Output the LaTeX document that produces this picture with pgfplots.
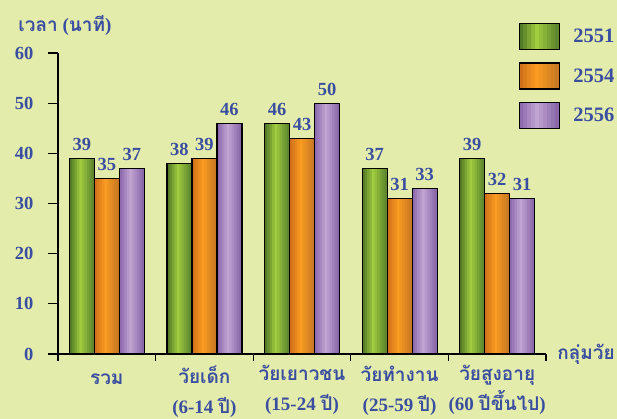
\documentclass[border=0pt]{standalone}
\usepackage{fontspec}
\setmainfont{Liberation Serif}
\newfontfamily\thai[Script=Thai]{Loma}
\usepackage{pgfplots}
\usepackage{pgfplotstable}
\pgfplotsset{compat=1.18}

\definecolor{bgc}{RGB}{228,236,172}
\definecolor{txt}{RGB}{58,78,160}
\definecolor{grL}{RGB}{74,112,36}
\definecolor{grM}{RGB}{160,204,64}
\definecolor{grR}{RGB}{88,128,44}
\definecolor{orL}{RGB}{204,108,26}
\definecolor{orM}{RGB}{250,156,34}
\definecolor{orR}{RGB}{196,118,36}
\definecolor{puL}{RGB}{136,100,170}
\definecolor{puM}{RGB}{194,164,210}
\definecolor{puR}{RGB}{132,98,166}

% gradient steps across a bar: dark left edge, light middle, darker right edge
\newcommand{\gradcolors}[4]{%
  \colorlet{#1s0}{#3!11!#2}\colorlet{#1s1}{#3!33!#2}\colorlet{#1s2}{#3!56!#2}%
  \colorlet{#1s3}{#3!78!#2}\colorlet{#1s4}{#3}\colorlet{#1s5}{#4!18!#3}%
  \colorlet{#1s6}{#4!36!#3}\colorlet{#1s7}{#4!55!#3}\colorlet{#1s8}{#4!73!#3}%
  \colorlet{#1s9}{#4!91!#3}}
\gradcolors{gr}{grL}{grM}{grR}
\gradcolors{or}{orL}{orM}{orR}
\gradcolors{pu}{puL}{puM}{puR}

\pgfplotstableread{
x a  b  c
0 39 35 37
1 38 39 46
2 46 43 50
3 37 31 33
4 39 32 31
}\data

\newcommand{\strip}[4]{\addplot[ybar, draw=none, fill=#1, bar width=#2pt, bar shift=#3pt, forget plot] table[x=x, y=#4]{\data};}

% legend swatch, same steps as the bars
\newcommand{\legbox}[1]{%
  \fill[#1s0] (0pt,-13pt) rectangle (40pt,13pt);
  \fill[#1s1] (4pt,-13pt) rectangle (40pt,13pt);
  \fill[#1s2] (8pt,-13pt) rectangle (40pt,13pt);
  \fill[#1s3] (12pt,-13pt) rectangle (40pt,13pt);
  \fill[#1s4] (16pt,-13pt) rectangle (40pt,13pt);
  \fill[#1s5] (20pt,-13pt) rectangle (40pt,13pt);
  \fill[#1s6] (24pt,-13pt) rectangle (40pt,13pt);
  \fill[#1s7] (28pt,-13pt) rectangle (40pt,13pt);
  \fill[#1s8] (32pt,-13pt) rectangle (40pt,13pt);
  \fill[#1s9] (36pt,-13pt) rectangle (40pt,13pt);
  \draw[black, line width=1.2pt] (0pt,-13pt) rectangle (40pt,13pt);}

\newcommand{\numfont}{\fontsize{18.5}{22}\selectfont\bfseries}
\newcommand{\thfont}{\fontsize{19}{30}\selectfont\bfseries}

\begin{document}
\begin{tikzpicture}
\fill[bgc] (-58pt,-65pt) rectangle (559pt,354pt);
\path[use as bounding box] (-58pt,-65pt) rectangle (559pt,354pt);
\begin{axis}[
    scale only axis,
    width=488pt, height=301pt,
    xmin=-0.5, xmax=4.5,
    ymin=0, ymax=60,
    ytick={0,10,...,60},
    xtick={0,...,4},
    xticklabels={
        {\thai รวม},
        {\thai วัยเด็ก}\\(6-14 {\thai ปี}),
        {\thai วัยเยาวชน}\\(15-24 {\thai ปี}),
        {\thai วัยทำงาน}\\(25-59 {\thai ปี}),
        {\thai วัยสูงอายุ}\\(60 {\thai ปีขึ้นไป})
    },
    minor xtick={-0.5,0.5,...,4.5},
    major x tick style={draw=none},
    minor tick length=7pt,
    major tick length=10pt,
    tick align=outside,
    tick style={black, line width=1.2pt},
    axis x line*=bottom,
    axis y line*=left,
    axis line style={black, line width=1.2pt},
    /pgf/number format/assume math mode=true,
    yticklabel style={text=txt, font=\numfont, xshift=-11pt},
    xticklabel style={text=txt, font=\thfont, align=center, anchor=north, yshift=2pt,
        execute at begin node={\rule{0pt}{19pt}}},
    every node near coord/.append style={text=txt, font=\numfont, inner sep=2pt, yshift=5pt},
    xlabel={\thai กลุ่มวัย},
    xlabel style={at={(axis description cs:1.016,0)}, anchor=west, text=txt, font=\thfont},
    ylabel={{\thai เวลา} ({\thai นาที})},
    ylabel style={rotate=-90, at={(axis description cs:0.014,1.093)}, anchor=center, text=txt, font=\thfont},
    legend cell align=left,
    legend style={at={(axis description cs:0.9385,1.1063)}, anchor=north west,
        draw=none, fill=none, text=txt, font=\fontsize{20.5}{24}\selectfont\bfseries,
        row sep=12pt, nodes={inner sep=4pt},
        /tikz/every odd column/.append style={column sep=9pt}},
]
% 2551
\strip{grs0}{25}{-25}{a}\strip{grs1}{22.5}{-23.75}{a}\strip{grs2}{20}{-22.5}{a}
\strip{grs3}{17.5}{-21.25}{a}\strip{grs4}{15}{-20}{a}\strip{grs5}{12.5}{-18.75}{a}
\strip{grs6}{10}{-17.5}{a}\strip{grs7}{7.5}{-16.25}{a}\strip{grs8}{5}{-15}{a}
\strip{grs9}{2.5}{-13.75}{a}
% 2554
\strip{ors0}{25}{0}{b}\strip{ors1}{22.5}{1.25}{b}\strip{ors2}{20}{2.5}{b}
\strip{ors3}{17.5}{3.75}{b}\strip{ors4}{15}{5}{b}\strip{ors5}{12.5}{6.25}{b}
\strip{ors6}{10}{7.5}{b}\strip{ors7}{7.5}{8.75}{b}\strip{ors8}{5}{10}{b}
\strip{ors9}{2.5}{11.25}{b}
% 2556
\strip{pus0}{25}{25}{c}\strip{pus1}{22.5}{26.25}{c}\strip{pus2}{20}{27.5}{c}
\strip{pus3}{17.5}{28.75}{c}\strip{pus4}{15}{30}{c}\strip{pus5}{12.5}{31.25}{c}
\strip{pus6}{10}{32.5}{c}\strip{pus7}{7.5}{33.75}{c}\strip{pus8}{5}{35}{c}
\strip{pus9}{2.5}{36.25}{c}
% outlines, labels and legend
\addplot[ybar, draw=black, line width=1.2pt, fill=none, bar width=25pt, bar shift=-25pt,
    nodes near coords, every node near coord/.append style={xshift=-25pt},
    legend image code/.code={\legbox{gr}}]
    table[x=x, y=a]{\data};
\addlegendentry{2551}
\addplot[ybar, draw=black, line width=1.2pt, fill=none, bar width=25pt, bar shift=0pt,
    nodes near coords,
    legend image code/.code={\legbox{or}}]
    table[x=x, y=b]{\data};
\addlegendentry{2554}
\addplot[ybar, draw=black, line width=1.2pt, fill=none, bar width=25pt, bar shift=25pt,
    nodes near coords, every node near coord/.append style={xshift=25pt},
    legend image code/.code={\legbox{pu}}]
    table[x=x, y=c]{\data};
\addlegendentry{2556}
\end{axis}
\end{tikzpicture}
\end{document}
